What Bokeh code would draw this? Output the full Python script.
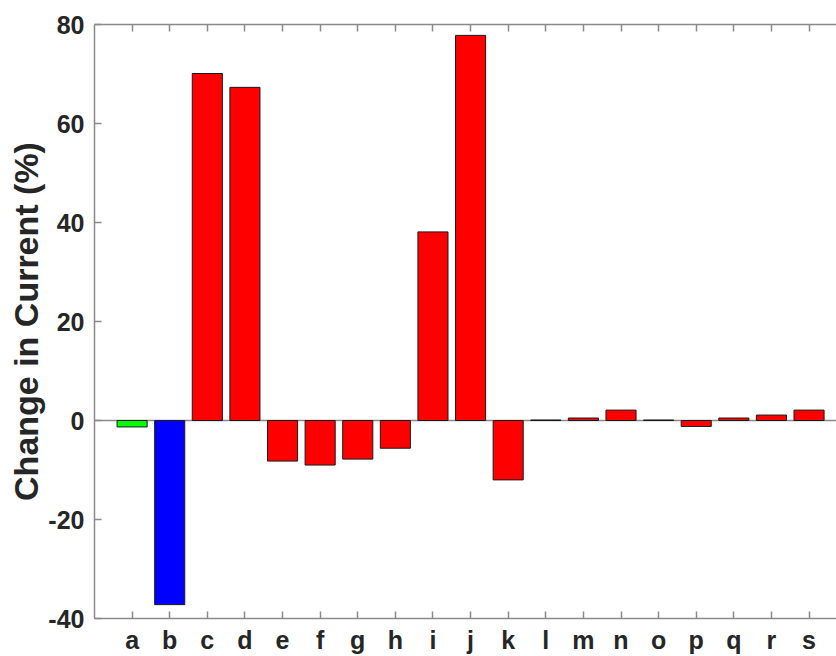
import numpy as np
from bokeh.plotting import figure
from bokeh.models import Range1d, LinearAxis, FixedTicker, Span, ColumnDataSource
from bokeh.embed import file_html
from bokeh.resources import INLINE

# ---- data ----
categories = ["a", "b", "c", "d", "e", "f", "g", "h", "i", "j",
              "k", "l", "m", "n", "o", "p", "q", "r", "s"]
change_pct = [-1.3, -37.2, 70.1, 67.3, -8.2, -9.0, -7.8, -5.6, 38.1, 77.8,
              -12.0, 0.1, 0.5, 2.1, 0.1, -1.2, 0.5, 1.1, 2.1]
y_ticks = [-40, -20, 0, 20, 40, 60, 80]
y_tick_labels = ["-40", "-20", "0", "20", "40", "60", "80"]

bar_colors = ["#00ff00", "#0000ff"] + ["#ff0000"] * (len(categories) - 2)

xpos = list(range(1, len(categories) + 1))
src = ColumnDataSource(dict(x=xpos, top=change_pct, color=bar_colors, cat=categories))

FONT = "Liberation Sans"
TXT = "#262626"
AX = "#8a8a8a"

p = figure(width=836, height=656, output_backend="svg", toolbar_location=None,
           x_range=Range1d(0, 19.73), y_range=Range1d(-40, 80),
           x_axis_location=None, y_axis_location=None,
           min_border_left=94, min_border_right=0, min_border_top=24, min_border_bottom=36)
p.outline_line_color = None
p.grid.visible = False
p.background_fill_color = "white"
p.border_fill_color = "white"

base = Span(location=0, dimension="width", line_color=AX, line_width=1.5, level="underlay")
p.add_layout(base)

p.vbar(x="x", top="top", bottom=0, width=0.8, fill_color="color",
       line_color="#1a1a1a", line_width=1, source=src)

xt = FixedTicker(ticks=xpos)

def style(ax):
    ax.axis_line_color = AX
    ax.axis_line_width = 1.5
    ax.major_tick_line_color = AX
    ax.major_tick_line_width = 1.5
    ax.major_tick_in = 7
    ax.major_tick_out = 0
    ax.minor_tick_line_color = None
    ax.major_label_text_font = FONT
    ax.major_label_text_font_style = "bold"
    ax.major_label_text_font_size = "25px"
    ax.major_label_text_color = TXT

xb = LinearAxis(ticker=xt, major_label_overrides={i: c for i, c in zip(xpos, categories)})
style(xb)
xb.major_label_standoff = 7
p.add_layout(xb, "below")

xtop = LinearAxis(ticker=xt, major_label_overrides={i: "" for i in xpos})
style(xtop)
xtop.major_label_standoff = 0
p.add_layout(xtop, "above")

yl = LinearAxis(ticker=FixedTicker(ticks=y_ticks),
                major_label_overrides={t: s for t, s in zip(y_ticks, y_tick_labels)})
style(yl)
yl.major_label_standoff = 10
yl.axis_label = "Change in Current (%)"
yl.axis_label_text_font = FONT
yl.axis_label_text_font_style = "bold"
yl.axis_label_text_font_size = "34px"
yl.axis_label_text_color = TXT
yl.axis_label_standoff = 0
p.add_layout(yl, "left")

open("out.html", "w").write(file_html(p, INLINE))
